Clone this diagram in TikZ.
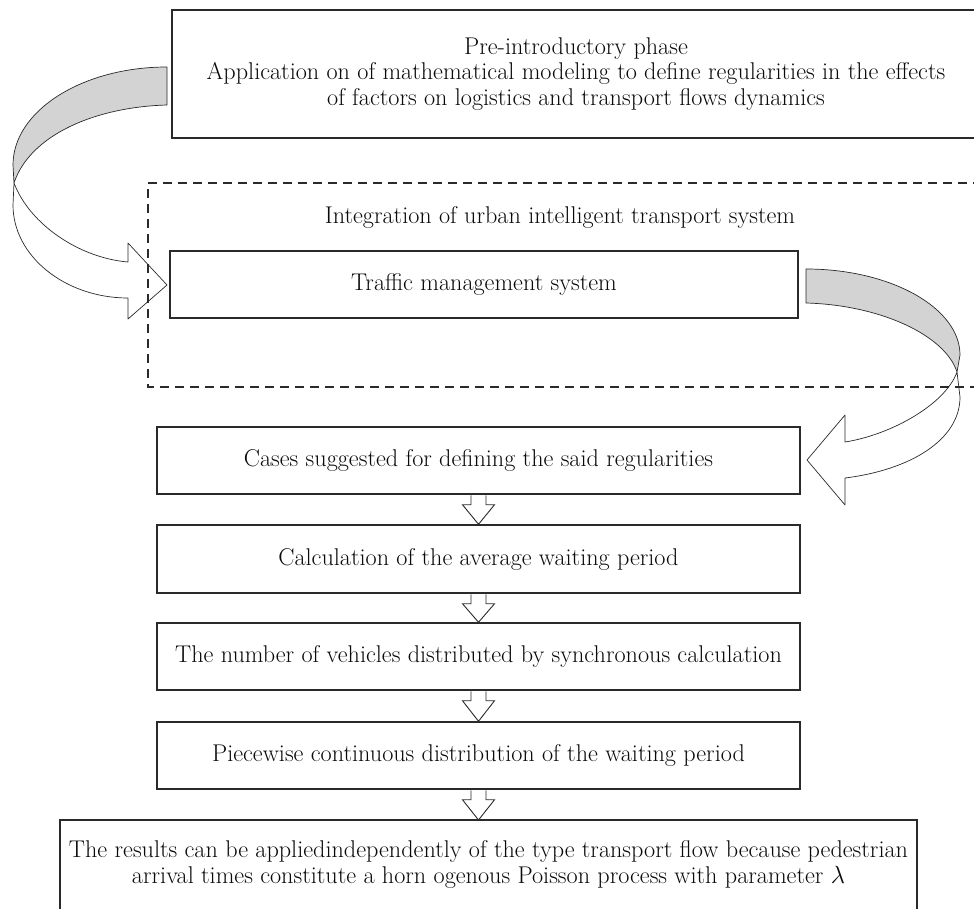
\documentclass[tikz,border=0pt]{standalone}
\usetikzlibrary{calc}
\definecolor{ink}{HTML}{2A2A2A}
\definecolor{txt}{HTML}{0A0A0A}
\definecolor{ribbon}{HTML}{D3D3D3}
\newcommand\txtfont{\fontsize{24.2}{25.8}\selectfont}
\newcommand\blockarrow[2]{%
  \draw[smallarrow] let \p1=(#1.south), \p2=(#2.north) in
    (\x1-7.5pt,\y1-0.7pt) -- (\x1-7.5pt,\y1-10pt) -- (\x1-16pt,\y1-10pt) -- (\x1,\y2)
    -- (\x1+16pt,\y1-10pt) -- (\x1+7.5pt,\y1-10pt) -- (\x1+7.5pt,\y1-0.7pt);}
\begin{document}
\begin{tikzpicture}[x=1pt,y=-1pt,
  box/.style={draw=ink, line width=1.5pt, rectangle, inner sep=0pt, align=center, font=\txtfont, text=txt},
  plain/.style={inner sep=0pt, align=center, font=\txtfont, text=txt},
  ribbonline/.style={draw=ink, line width=0.7pt, line join=round},
  smallarrow/.style={draw=ink, line width=0.9pt, fill=white, line join=miter},
  dashline/.style={draw=ink, line width=1.2pt, dash pattern=on 9pt off 6pt}]
\useasboundingbox (0,0) rectangle (974,909);

% curved ribbon arrows (drawn first)
\draw[ribbonline, fill=ribbon] (167,67) .. controls (82,67) and (13,111) .. (13,165) -- (14,183)
  .. controls (30,135) and (95,107) .. (167,105) -- cycle;
\draw[ribbonline, fill=white] (14,183) .. controls (30,225) and (80,258) .. (128,262) -- (128,243)
  -- (167,285) -- (128,319) -- (128,298) .. controls (65,298) and (13,256) .. (13,205) -- cycle;
\draw[ribbonline, fill=ribbon] (806,269) .. controls (891,269) and (960,308) .. (960,355) -- (957,372)
  .. controls (945,335) and (880,305) .. (806,303) -- cycle;
\draw[ribbonline, fill=white] (957,372) .. controls (945,405) and (890,435) .. (845,442) -- (845,415)
  -- (807,460) -- (845,505) -- (845,478) .. controls (910,470) and (960,440) .. (960,397) -- cycle;

% dashed frame
\draw[dashline] (982,183) -- (148,183) -- (148,387) -- (982,387);

\node[box, minimum width=808pt, minimum height=128pt] (pre) at (576,74)
  {Pre-introductory phase\\Application on of mathematical modeling to define regularities in the effects\\of factors on logistics and transport flows dynamics};
\node[plain] (integ) at (560,217) {Integration of urban intelligent transport system};
\node[box, line width=2.1pt, minimum width=628pt, minimum height=67pt] (tms) at (484,284.5) {Traffic management system};

\node[box, minimum width=643pt, minimum height=67pt] (cases) at (478.5,460.5) {Cases suggested for defining the said regularities};
\node[box, minimum width=643pt, minimum height=68pt] (calcb) at (478.5,559) {Calculation of the average waiting period};
\node[box, minimum width=643pt, minimum height=67pt] (num) at (478.5,656.5) {The number of vehicles distributed by synchronous calculation};
\node[box, minimum width=643pt, minimum height=67pt] (piece) at (478.5,755.5) {Piecewise continuous distribution of the waiting period};
\node[plain] (res) at (488.5,864.5) {The results can be appliedindependently of the type transport flow because pedestrian\\arrival times constitute a horn ogenous Poisson process with parameter $\lambda$};
\draw[draw=ink, line width=1.5pt] (60,915) |- (917,820) -- (917,915);
\coordinate (restop) at (478.5,820);

\blockarrow{cases}{calcb}
\blockarrow{calcb}{num}
\blockarrow{num}{piece}
\draw[smallarrow] let \p1=(piece.south), \p2=(restop) in
    (\x1-7.5pt,\y1-0.7pt) -- (\x1-7.5pt,\y1-10pt) -- (\x1-16pt,\y1-10pt) -- (\x1,\y2)
    -- (\x1+16pt,\y1-10pt) -- (\x1+7.5pt,\y1-10pt) -- (\x1+7.5pt,\y1-0.7pt);
\end{tikzpicture}
\end{document}
